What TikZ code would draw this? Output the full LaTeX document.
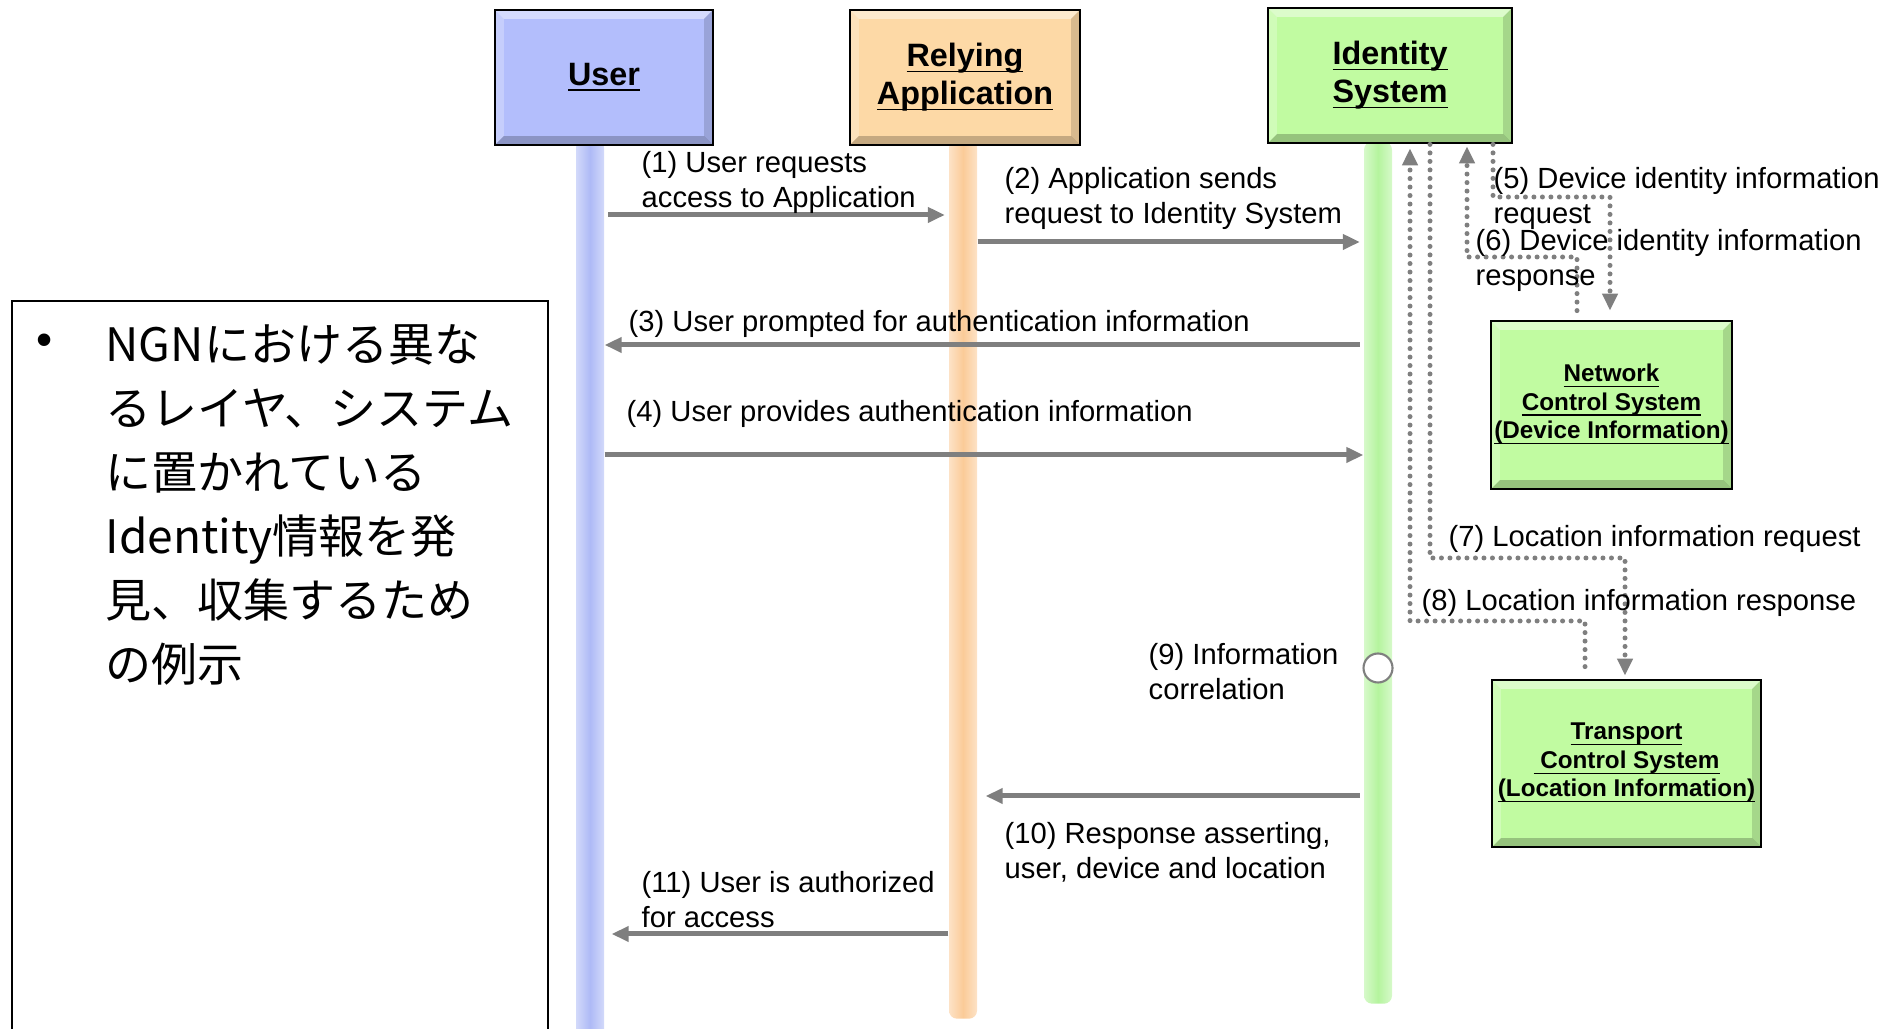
\documentclass[tikz,border=0pt]{standalone}
\usepackage{fontspec}
\setmainfont{Liberation Sans}
\newfontfamily\jpfont{Noto Sans CJK JP}
\usepackage{tikz}
\usetikzlibrary{arrows.meta}

\definecolor{userfill}{HTML}{B3BEFC}
\definecolor{appfill}{HTML}{FDD9A6}
\definecolor{idsfill}{HTML}{C1FBA1}
\definecolor{userbar}{HTML}{AEBAF6}
\definecolor{appbar}{HTML}{FBCB98}
\definecolor{idsbar}{HTML}{B5F49E}
\definecolor{msggray}{HTML}{7F7F7F}

% underline that sits on the baseline, through the descenders
\newcommand{\ulbox}[1]{\underline{\smash{#1}}\vphantom{#1}}

\begin{document}
\begin{tikzpicture}[
font=\fontsize{8.3}{10}\selectfont,
>={Triangle[length=0.17cm,width=0.15cm]},
actor/.style={draw=black, line width=0.8pt, align=center, inner sep=0pt,
  font=\fontsize{9.2}{10.8}\selectfont\bfseries,
  path picture={
    \path (path picture bounding box.north west) coordinate (bnw)
          (path picture bounding box.north east) coordinate (bne)
          (path picture bounding box.south east) coordinate (bse)
          (path picture bounding box.south west) coordinate (bsw);
    \fill[white,opacity=.45] (bnw) -- (bne) -- ([xshift=-2.5pt,yshift=-2.5pt]bne) -- ([xshift=2.5pt,yshift=-2.5pt]bnw) -- cycle;
    \fill[white,opacity=.25] (bnw) -- (bsw) -- ([xshift=2.5pt,yshift=2.5pt]bsw) -- ([xshift=2.5pt,yshift=-2.5pt]bnw) -- cycle;
    \fill[black,opacity=.22] (bsw) -- (bse) -- ([xshift=-2.5pt,yshift=2.5pt]bse) -- ([xshift=2.5pt,yshift=2.5pt]bsw) -- cycle;
    \fill[black,opacity=.14] (bne) -- (bse) -- ([xshift=-2.5pt,yshift=2.5pt]bse) -- ([xshift=-2.5pt,yshift=-2.5pt]bne) -- cycle;
  }},
subsys/.style={actor, fill=idsfill, font=\fontsize{6.9}{8.1}\selectfont\bfseries},
lifeline/.style={anchor=north, inner sep=0pt, minimum width=0.28cm, rounded corners=0.08cm,
  left color=#1!55!white, right color=#1!55!white, middle color=#1},
msg/.style={->, draw=msggray, line width=0.05cm},
dotmsg/.style={->, draw=msggray, line width=0.05cm, line cap=round, dash pattern=on 0pt off 0.085cm},
lbl/.style={anchor=west, align=left, inner sep=0pt},
scale=1]
    \useasboundingbox (0,0) rectangle (18.94,-10.29);

    % Lifelines
    \node[lifeline=userbar, minimum height=9.2cm] (userline) at (5.90,-1.39) {};
    \node[lifeline=appbar, minimum height=8.79cm] (appline) at (9.63,-1.39) {};
    \node[lifeline=idsbar, minimum height=8.62cm] (idsline) at (13.78,-1.41) {};

    % Participants
    \node[actor, fill=userfill, minimum width=2.18cm, minimum height=1.35cm] (user) at (6.04,-0.775) {\ulbox{User}};
    \node[actor, fill=appfill, minimum width=2.30cm, minimum height=1.35cm] (app) at (9.65,-0.775) {\ulbox{Relying}\\\ulbox{Application}};
    \node[actor, fill=idsfill, minimum width=2.44cm, minimum height=1.35cm] (ids) at (13.90,-0.755) {\ulbox{Identity}\\\ulbox{System}};
    \node[subsys, minimum width=2.41cm, minimum height=1.68cm] (ncs) at (16.115,-4.05) {\ulbox{Network}\\\ulbox{Control System}\\\ulbox{(Device Information)}};
    \node[subsys, minimum width=2.69cm, minimum height=1.67cm] (tcs) at (16.265,-7.635) {\ulbox{Transport}\\\ulbox{~Control System}\\\ulbox{(Location Information)}};

    % Side note
    \node[draw, line width=0.6pt, minimum width=5.36cm, minimum height=8cm, anchor=north west] (note) at (0.11,-3.00) {};
    \node[font=\fontsize{13.1}{18.2}\selectfont] (bullet) at (0.45,-3.45) {\textbullet};
    \node[anchor=north west, align=left, inner sep=0pt, font=\jpfont\fontsize{13.1}{18.2}\selectfont] (notetext) at (1.05,-3.24)
        {NGNにおける異な\\るレイヤ、システム\\に置かれている\\Identity情報を発\\見、収集するため\\の例示};

    % Messages
    \draw[msg, shorten <=1pt, shorten >=1pt] (userline.east |- 0,-2.15) -- (appline.west |- 0,-2.15);
    \draw[msg, shorten >=1pt] (appline.east |- 0,-2.42) -- (idsline.west |- 0,-2.42);
    \draw[msg, shorten <=1pt] (idsline.west |- 0,-3.45) -- (userline.east |- 0,-3.45);
    \draw[msg] (userline.east |- 0,-4.55) -- (idsline.west |- 0,-4.55);
    \draw[msg, shorten <=1pt, shorten >=0.08cm] (idsline.west |- 0,-7.96) -- (appline.east |- 0,-7.96);
    \draw[msg, shorten >=0.07cm] (appline.west |- 0,-9.34) -- (userline.east |- 0,-9.34);

    % Queries to the control systems
    \draw[dotmsg, shorten >=0.09cm] (ids.south -| 14.93,0) |- (16.10,-1.97) -- (ncs.north -| 16.10,0);
    \draw[dotmsg, shorten <=0.09cm, shorten >=0.02cm] (ncs.north -| 15.77,0) |- (14.67,-2.57) -- (ids.south -| 14.67,0);
    \draw[dotmsg, shorten >=0.03cm] (ids.south -| 14.30,0) |- (16.25,-5.58) -- (tcs.north -| 16.25,0);
    \draw[dotmsg, shorten <=0.12cm, shorten >=0.04cm] (tcs.north -| 15.85,0) |- (14.10,-6.21) -- (ids.south -| 14.10,0);

    \node[circle, draw=msggray, fill=white, line width=0.6pt, minimum size=0.29cm, inner sep=0pt] (corr) at (idsline.center |- 0,-6.68) {};

    % Step labels
    \node[lbl] (l1) at (6.41,-1.825) {(1) User requests\\access to Application};
    \node[lbl] (l2) at (10.04,-1.985) {(2) Application sends\\request to Identity System};
    \node[lbl] (l3) at (6.28,-3.24) {(3) User prompted for authentication information};
    \node[lbl] (l4) at (6.26,-4.14) {(4) User provides authentication information};
    \node[lbl] (l5) at (14.93,-1.985) {(5) Device identity information\\request};
    \node[lbl] (l6) at (14.75,-2.605) {(6) Device identity information\\response};
    \node[lbl] (l7) at (14.48,-5.39) {(7) Location information request};
    \node[lbl] (l8) at (14.21,-6.03) {(8) Location information response};
    \node[lbl] (l9) at (11.48,-6.72) {(9) Information\\correlation};
    \node[lbl] (l10) at (10.04,-8.525) {(10) Response asserting,\\user, device and location};
    \node[lbl] (l11) at (6.41,-8.995) {(11) User is authorized\\for access};

\end{tikzpicture}
\end{document}
